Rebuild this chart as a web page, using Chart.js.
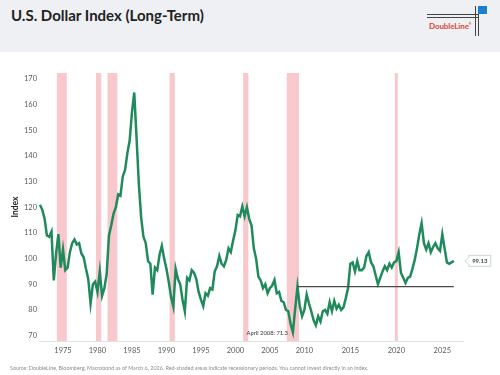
<!DOCTYPE html>
<html>
<head>
<meta charset="utf-8">
<script src="https://cdn.jsdelivr.net/npm/chart.js@4.4.1/dist/chart.umd.min.js"></script>
<style>
  body { margin: 0; width: 500px; height: 375px; background: #fff; position: relative; overflow: hidden; font-family: Lato, "Open Sans", sans-serif; }
  .header { position: absolute; left: 0; top: 0; width: 500px; height: 52px; background: #eef0f3; }
  .title { position: absolute; left: 11px; top: 6px; font-size: 15px; font-weight: bold; color: #222; white-space: nowrap; }
  .logo-h { position: absolute; left: 427px; width: 51px; height: 1px; background: #444; }
  .logo-v { position: absolute; top: 6px; width: 1px; height: 30px; background: #444; }
  .logo-sq { position: absolute; left: 478px; top: 6px; width: 9px; height: 8px; background: #1b7fd1; }
  .logo-txt { position: absolute; left: 429px; top: 21px; font-size: 8px; font-weight: bold; color: #d8483c; letter-spacing: -0.1px; }
  #dxyChart { position: absolute; left: 0; top: 0; }
  .source { position: absolute; left: 10px; top: 365px; font-size: 5.4px; color: #8c8c8c; white-space: nowrap; }
</style>
</head>
<body>
<div class="header">
  <div class="title">U.S. Dollar Index (Long-Term)</div>
  <div class="logo-h" style="top:14px"></div>
  <div class="logo-h" style="top:17px"></div>
  <div class="logo-v" style="left:475px"></div>
  <div class="logo-v" style="left:478px"></div>
  <div class="logo-sq"></div>
  <div class="logo-txt">DoubleLine<sup style="font-size:3px">®</sup></div>
</div>
<canvas id="dxyChart" width="500" height="375"></canvas>
<div class="source">Source: DoubleLine, Bloomberg, Macrobond as of March 6, 2026. Red-shaded areas indicate recessionary periods. You cannot invest directly in an index.</div>
<script>
// DXY, Sep 1971 - Sep 2009, every 4 months (Jan / May / Sep)
const dxyPre = [
  121, 119, 115.5, 109, 108.5, 110.5, 91.5, 102, 109.5, 96.5,
  103.5, 95.5, 96.5, 102.5, 106, 107.5, 105.5, 106, 102, 100.5,
  96, 92, 82.5, 90, 91, 87, 95, 85.5, 88.5, 94,
  109, 113, 117.5, 120, 125, 124.5, 132, 134.5, 141, 146,
  157, 164.7, 147, 129, 116, 108.5, 106, 99, 98, 86,
  96.5, 95.5, 101.5, 105, 100, 96, 91, 85, 81.3, 96,
  92, 90, 84, 79.5, 92.5, 91.5, 95.5, 94.5, 92, 87,
  84, 81.5, 86.5, 85.5, 88.5, 88, 95, 97, 101, 98,
  97, 99.5, 104, 102.5, 107, 111, 117, 116.5, 120.3, 116.5,
  120, 115.5, 113, 104, 100, 93, 91.5, 88.5, 90, 86.5,
  88.5, 89.5, 91.7, 86.5, 87, 83.5, 83, 80, 79.5, 74.5,
  71.3, 80.5, 89.1, 81.5, 77.5
];
// DXY, Jan 2010 - Jan 2026 quarterly, then Mar 2026
const dxyPost = [
  80, 86, 82.5, 79.5, 76, 74, 77.5, 75.5, 79.5, 80,
  78.5, 83, 79.5, 83.5, 80.5, 82, 80, 81, 84.5, 88.5,
  98, 98.5, 95, 99, 95.5, 95.5, 96.5, 101, 102.5, 98.5,
  97, 93.5, 90, 92.5, 95, 97, 95.5, 98, 96.5, 98.5,
  99, 102.5, 94.5, 92.5, 90.5, 92.5, 93, 96, 99.5, 104,
  109.5, 113.8, 106, 103.5, 106, 102.5, 104.5, 106, 104, 103,
  109.5, 104, 98.5, 98, 98.5, 99.13
];
const dxy = dxyPre.concat(dxyPost);

const labels = ['1971-09'];
for (let y = 1972; y <= 2009; y++) ['01', '05', '09'].forEach(m => labels.push(y + '-' + m));
for (let y = 2010; y <= 2025; y++) ['01', '04', '07', '10'].forEach(m => labels.push(y + '-' + m));
labels.push('2026-01', '2026-03', '2026-06', '2026-09', '2026-12', '2027-03');

const yearTicks = ['1975', '1980', '1985', '1990', '1995', '2000', '2005', '2010', '2015', '2020', '2025'];

const recessions = [
  ['1974-05', '1975-05'], ['1980-01', '1980-05'], ['1981-09', '1982-09'], ['1990-09', '1991-01'],
  ['2001-05', '2001-09'], ['2007-09', '2009-01'], ['2020-01', '2020-01']
];

const supportLevel = 89.1;
const supportFrom = '2009-01';
const lowLabel = '2008-05';
const lowText = 'April 2008: 71.3';

const Y_MIN = 67.9, Y_MAX = 172.3;

const recessionData = labels.map(l => recessions.some(([a, b]) => l >= a && l <= b) ? [Y_MIN, Y_MAX] : null);
const supportData = labels.map((l, i) => (l >= supportFrom && i < dxy.length) ? supportLevel : null);

const notes = {
  id: 'notes',
  afterDatasetsDraw(chart) {
    const ctx = chart.ctx;
    const pts = chart.getDatasetMeta(0).data;
    // April 2008 low
    const low = pts[labels.indexOf(lowLabel)];
    ctx.save();
    ctx.font = '5.8px Lato';
    ctx.fillStyle = '#333';
    ctx.textAlign = 'right';
    ctx.textBaseline = 'middle';
    ctx.fillText(lowText, low.x - 5, low.y + 1);
    // last value tag
    const last = pts[dxy.length - 1];
    const tipX = last.x + 11, bx = tipX + 4, bw = 22, bh = 11, by = last.y - bh / 2;
    ctx.strokeStyle = '#c8c8c8';
    ctx.lineWidth = 0.8;
    ctx.fillStyle = '#fff';
    ctx.beginPath();
    ctx.moveTo(tipX, last.y);
    ctx.lineTo(bx, by + 2);
    ctx.lineTo(bx, by);
    ctx.lineTo(bx + bw, by);
    ctx.lineTo(bx + bw, by + bh);
    ctx.lineTo(bx, by + bh);
    ctx.lineTo(bx, by + bh - 2);
    ctx.closePath();
    ctx.fill();
    ctx.stroke();
    ctx.fillStyle = '#2f4a3c';
    ctx.font = 'bold 6px Lato';
    ctx.textAlign = 'center';
    ctx.fillText(dxy[dxy.length - 1].toFixed(2), bx + bw / 2, last.y + 0.5);
    ctx.restore();
  }
};

new Chart(document.getElementById('dxyChart'), {
  type: 'bar',
  data: {
    labels: labels,
    datasets: [{
      type: 'line',
      label: 'DXY',
      data: dxy,
      borderColor: '#1f8a5b',
      borderWidth: 2.5,
      pointRadius: 0,
      tension: 0,
      order: 2
    }, {
      type: 'line',
      label: 'March 2009 level',
      data: supportData,
      borderColor: '#4a4a4a',
      borderWidth: 1.2,
      pointRadius: 0,
      order: 1
    }, {
      type: 'bar',
      label: 'Recessions',
      data: recessionData,
      backgroundColor: '#f9c8cc',
      borderWidth: 0,
      barPercentage: 1,
      categoryPercentage: 1,
      order: 3
    }]
  },
  options: {
    responsive: false,
    animation: false,
    layout: { padding: { left: 0, right: 37, top: 73, bottom: 0 } },
    plugins: { legend: { display: false }, tooltip: { enabled: false }, title: { display: false } },
    scales: {
      x: {
        offset: false,
        grid: { display: false, drawTicks: false },
        border: { display: true, color: '#e2e2e2' },
        ticks: {
          autoSkip: false,
          maxRotation: 0,
          padding: 5,
          color: '#595959',
          font: { family: 'Lato', size: 7.5 },
          callback: function (value) {
            const l = this.getLabelForValue(value);
            const y = l.slice(0, 4);
            return (l.endsWith('-01') && yearTicks.includes(y)) ? y : '';
          }
        },
        afterFit: s => { s.height = 34; }
      },
      y: {
        min: Y_MIN,
        max: Y_MAX,
        grid: { display: false, drawTicks: false },
        border: { display: false },
        ticks: {
          stepSize: 10,
          includeBounds: false,
          padding: 3,
          color: '#595959',
          font: { family: 'Lato', size: 7.5 },
          callback: v => (Math.abs(v % 10) < 1e-6 ? v : null)
        },
        title: {
          display: true,
          text: 'Index',
          color: '#222',
          font: { family: 'Lato', size: 8.5, weight: 'bold' },
          padding: { top: 10, bottom: 0 }
        },
        afterFit: s => { s.width = 40; }
      }
    }
  },
  plugins: [notes]
});
</script>
</body>
</html>
